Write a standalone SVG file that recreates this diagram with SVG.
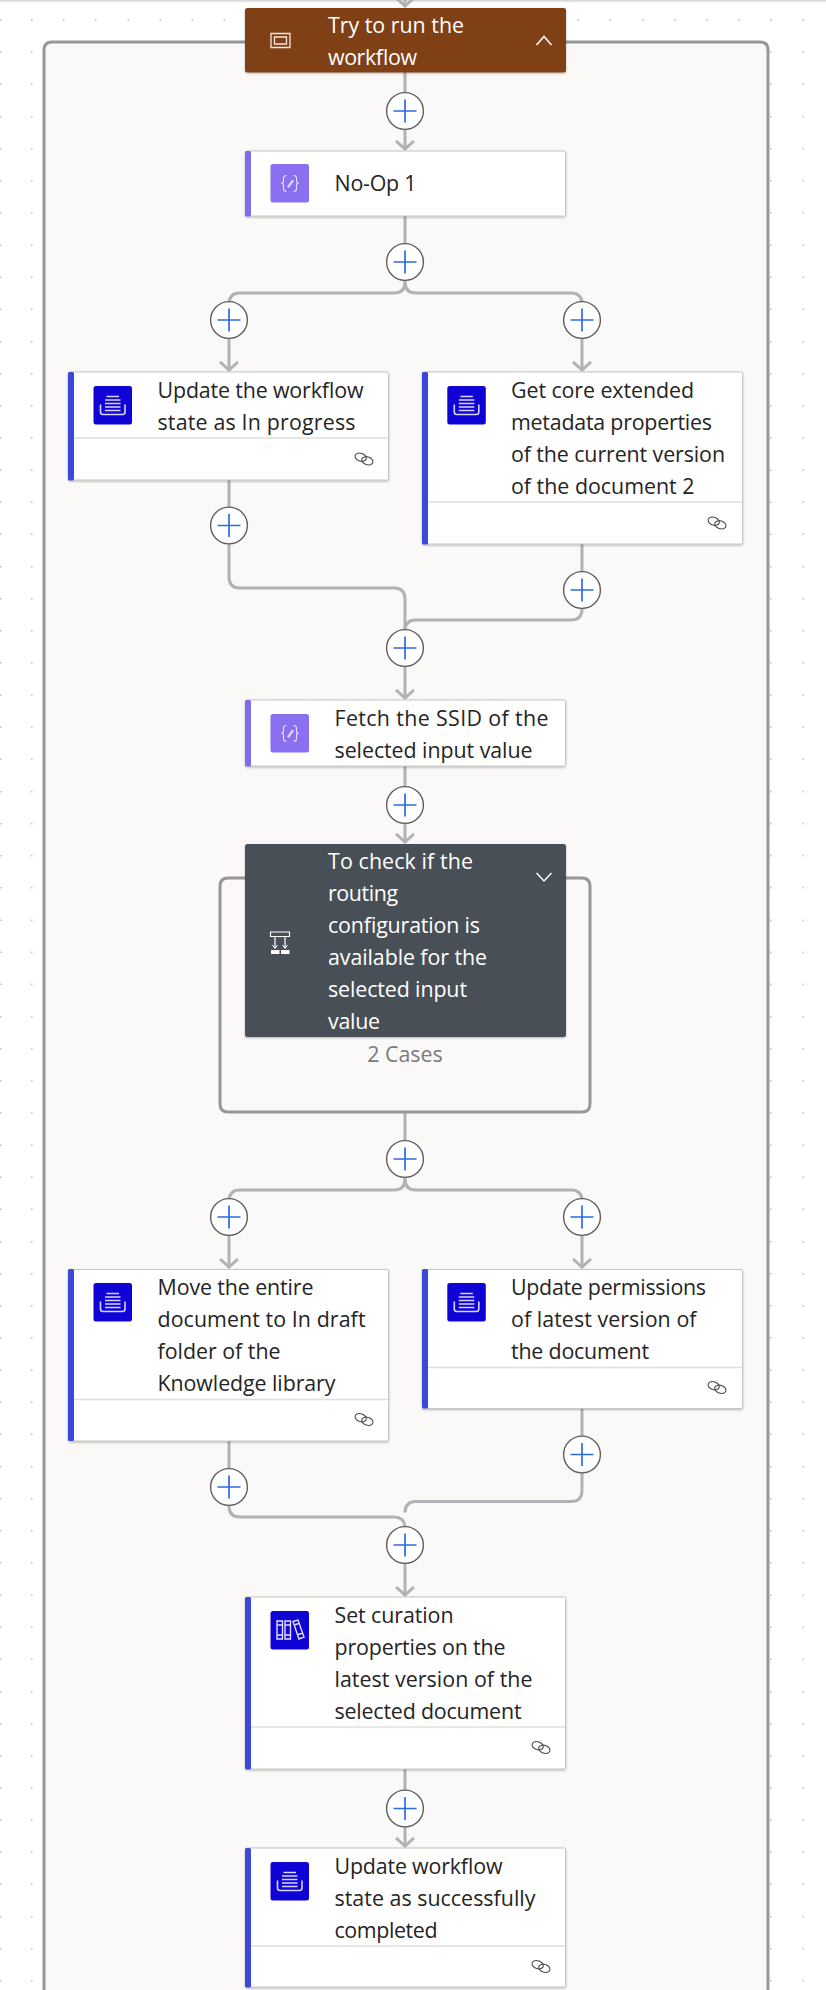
<svg xmlns="http://www.w3.org/2000/svg" width="826" height="1990" viewBox="0 0 826 1990">
<defs>
<style>
text{font-family:"Open Sans","Noto Sans","Liberation Sans",sans-serif;font-size:21.4px;fill:#242424;font-weight:400}
.lt{fill:#fff}
.card{fill:#fff;stroke:#c8c6c4;stroke-width:1}
.div{stroke:#e1dfdd;stroke-width:1.5;fill:none}
.conn{fill:none;stroke:#b1b1b6;stroke-width:3}
.scope{fill:#faf9f8;stroke:#979797;stroke-width:3}
.chain{fill:none;stroke:#4a4a4a;stroke-width:1.1}
.ico{fill:none;stroke:#d8d4ff;stroke-width:1.6}
.dot{fill:#c0c0c0}
</style>
<linearGradient id="topBand" x1="0" y1="0" x2="0" y2="1"><stop offset="0" stop-color="#d0d0d0"/><stop offset="1" stop-color="#fff"/></linearGradient>
<filter id="sh" x="-5%" y="-10%" width="110%" height="125%"><feDropShadow dx="0" dy="1" stdDeviation="1.2" flood-color="#000" flood-opacity="0.28"/></filter>
<marker id="arr" viewBox="0 0 20 12" refX="10" refY="10.500" markerWidth="20" markerHeight="12" markerUnits="userSpaceOnUse" orient="0"><path d="M1 1.500 10 9.500 19 1.500" fill="none" stroke="#b1b1b6" stroke-width="3"/></marker>
<g id="plus"><circle r="18.400" fill="#fff" stroke="#605e5c" stroke-width="1.400"/><path d="M-11.500 0H11.500M0-11.500V11.500" stroke="#2f6be4" stroke-width="1.700" fill="none"/></g>
<g id="chainI"><ellipse cx="-3.300" cy="-1.800" rx="5.800" ry="3.900" class="chain" transform="rotate(18 -3.300 -1.800)"/><ellipse cx="3.300" cy="1.800" rx="5.800" ry="3.900" class="chain" transform="rotate(18 3.300 1.800)"/></g>
<g id="icoData"><rect width="38.500" height="38.500" rx="2.500" fill="#0f03d6"/><path d="M13 10.500H25.500M11.500 14H27M11.500 17.500H27M11.500 21H27M11.500 24.500H27" stroke="#d8d4ff" stroke-width="1.500" fill="none"/><path d="M7 18.500V26Q7 28.500 9.500 28.500H29Q31.500 28.500 31.500 26V18.500" class="ico"/></g>
<g id="icoVar"><rect width="38.500" height="38.500" rx="2.500" fill="#8a6ff0"/><path d="M16 11.500Q13 11.500 13 14V17Q13 19.300 10.800 19.300Q13 19.300 13 21.600V25Q13 27.300 16 27.300M23 11.500Q26 11.500 26 14V17Q26 19.300 28.200 19.300Q26 19.300 26 21.600V25Q26 27.300 23 27.300" fill="none" stroke="#e6e0ff" stroke-width="1.100"/><path d="M16.500 22.500 21.500 15.500 23.500 17 18.500 24Z" fill="#d9d2ff"/></g>
</defs>
<rect width="826" height="1990" fill="#fff"/>
<rect width="826" height="3" fill="url(#topBand)"/>
<g id="grid" class="dot">
<path d="M31 19.500h1.500v1.500h-1.500zM63 19.500h1.500v1.500h-1.500zM95 19.500h1.500v1.500h-1.500zM127.500 19.500h1.500v1.500h-1.500zM159.500 19.500h1.500v1.500h-1.500zM191.500 19.500h1.500v1.500h-1.500zM223.500 19.500h1.500v1.500h-1.500zM577.500 19.500h1.500v1.500h-1.500zM609.500 19.500h1.500v1.500h-1.500zM642 19.500h1.500v1.500h-1.500zM674 19.500h1.500v1.500h-1.500zM706 19.500h1.500v1.500h-1.500zM738 19.500h1.500v1.500h-1.500zM770 19.500h1.500v1.500h-1.500zM802.500 19.500h1.500v1.500h-1.500z"/>
<path id="dc" d="M0 19.500h1.500v1.500h-1.500zM0 51.500h1.500v1.500h-1.500zM0 83.500h1.500v1.500h-1.500zM0 116h1.500v1.500h-1.500zM0 148h1.500v1.500h-1.500zM0 180h1.500v1.500h-1.500zM0 212h1.500v1.500h-1.500zM0 244.500h1.500v1.500h-1.500zM0 276.500h1.500v1.500h-1.500zM0 308.500h1.500v1.500h-1.500zM0 341h1.500v1.500h-1.500zM0 373h1.500v1.500h-1.500zM0 405h1.500v1.500h-1.500zM0 437h1.500v1.500h-1.500zM0 469.500h1.500v1.500h-1.500zM0 501.500h1.500v1.500h-1.500zM0 533.500h1.500v1.500h-1.500zM0 566h1.500v1.500h-1.500zM0 598h1.500v1.500h-1.500zM0 630h1.500v1.500h-1.500zM0 662h1.500v1.500h-1.500zM0 694.500h1.500v1.500h-1.500zM0 726.500h1.500v1.500h-1.500zM0 758.500h1.500v1.500h-1.500zM0 791h1.500v1.500h-1.500zM0 823h1.500v1.500h-1.500zM0 855h1.500v1.500h-1.500zM0 887h1.500v1.500h-1.500zM0 919.500h1.500v1.500h-1.500zM0 951.500h1.500v1.500h-1.500zM0 983.500h1.500v1.500h-1.500zM0 1016h1.500v1.500h-1.500zM0 1048h1.500v1.500h-1.500zM0 1080h1.500v1.500h-1.500zM0 1112h1.500v1.500h-1.500zM0 1144.500h1.500v1.500h-1.500zM0 1176.500h1.500v1.500h-1.500zM0 1208.500h1.500v1.500h-1.500zM0 1241h1.500v1.500h-1.500zM0 1273h1.500v1.500h-1.500zM0 1305h1.500v1.500h-1.500zM0 1337h1.500v1.500h-1.500zM0 1369.500h1.500v1.500h-1.500zM0 1401.500h1.500v1.500h-1.500zM0 1433.500h1.500v1.500h-1.500zM0 1466h1.500v1.500h-1.500zM0 1498h1.500v1.500h-1.500zM0 1530h1.500v1.500h-1.500zM0 1562h1.500v1.500h-1.500zM0 1594.500h1.500v1.500h-1.500zM0 1626.500h1.500v1.500h-1.500zM0 1658.500h1.500v1.500h-1.500zM0 1691h1.500v1.500h-1.500zM0 1723h1.500v1.500h-1.500zM0 1755h1.500v1.500h-1.500zM0 1787h1.500v1.500h-1.500zM0 1819.500h1.500v1.500h-1.500zM0 1851.500h1.500v1.500h-1.500zM0 1883.500h1.500v1.500h-1.500zM0 1916h1.500v1.500h-1.500zM0 1948h1.500v1.500h-1.500zM0 1980h1.500v1.500h-1.500z"/>
<use href="#dc" x="31"/><use href="#dc" x="770"/><use href="#dc" x="802.500"/>
</g>
<path class="scope" d="M44 1992V50Q44 42 52 42H760Q768 42 768 50V1992"/>
<g id="connectors">
<path class="conn" d="M405 0V7" marker-end="url(#arr)"/>
<path class="conn" d="M405 72V150" marker-end="url(#arr)"/>
<path class="conn" d="M405 216V282Q405 293 394 293H240Q229 293 229 304V371" marker-end="url(#arr)"/>
<path class="conn" d="M405 282Q405 293 416 293H571Q582 293 582 304V371" marker-end="url(#arr)"/>
<path class="conn" d="M229 480V577Q229 588 240 588H394Q405 588 405 599V699" marker-end="url(#arr)"/>
<path class="conn" d="M582 544V609Q582 620 571 620H416Q405 620 405 631"/>
<path class="conn" d="M405 766V843" marker-end="url(#arr)"/>
<path class="conn" d="M405 1112V1179Q405 1190 394 1190H240Q229 1190 229 1201V1268" marker-end="url(#arr)"/>
<path class="conn" d="M405 1179Q405 1190 416 1190H571Q582 1190 582 1201V1268" marker-end="url(#arr)"/>
<path class="conn" d="M229 1441V1506Q229 1517 240 1517H394Q405 1517 405 1528V1596" marker-end="url(#arr)"/>
<path class="conn" d="M582 1408.500V1490.500Q582 1501.500 571 1501.500H416Q405 1501.500 405 1512.500"/>
<path class="conn" d="M405 1769V1847" marker-end="url(#arr)"/>
</g>
<g id="plusButtons">
<use href="#plus" x="405" y="111"/><use href="#plus" x="405" y="262"/><use href="#plus" x="229" y="320"/><use href="#plus" x="582" y="320"/><use href="#plus" x="229" y="525.500"/><use href="#plus" x="582" y="590"/><use href="#plus" x="405" y="648"/><use href="#plus" x="405" y="805"/><use href="#plus" x="405" y="1159"/><use href="#plus" x="229" y="1217"/><use href="#plus" x="582" y="1217"/><use href="#plus" x="229" y="1487"/><use href="#plus" x="582" y="1454.500"/><use href="#plus" x="405" y="1545"/><use href="#plus" x="405" y="1808.500"/>
</g>
<g id="node-try">
<rect x="245" y="8" width="321" height="64.500" rx="2.500" fill="#803f13" filter="url(#sh)"/>
<path d="M271 33.500h19v14h-19zM274.500 37h12v7h-12z" fill="none" stroke="#f3e6dc" stroke-width="1.300"/>
<path d="M536.500 45 544 36.500 551.500 45" fill="none" stroke="#fff" stroke-width="1.500"/>
<text class="lt" x="328" y="33" textLength="136">Try to run the</text><text class="lt" x="328" y="65" textLength="89">workflow</text>
</g>
<g id="node-noop">
<rect class="card" x="245.500" y="151" width="320" height="65" rx="1.500" filter="url(#sh)"/><rect x="245" y="151" width="6" height="65.500" rx="1.500" fill="#7f6bee"/>
<use href="#icoVar" x="270.500" y="164"/>
<text x="334.500" y="191" textLength="82">No-Op 1</text>
</g>
<g id="node-update-state">
<rect class="card" x="68.500" y="372" width="320" height="108" rx="1.500" filter="url(#sh)"/><rect x="68" y="372" width="6" height="108.500" rx="1.500" fill="#3b48d8"/>
<path class="div" d="M74 438H388"/><use href="#icoData" x="93.500" y="386"/><use href="#chainI" x="364" y="459"/>
<text x="157.500" y="397.500" textLength="206">Update the workflow</text><text x="157.500" y="429.500" textLength="198">state as In progress</text>
</g>
<g id="node-get-core">
<rect class="card" x="422.500" y="372" width="320" height="172" rx="1.500" filter="url(#sh)"/><rect x="422" y="372" width="6" height="172.500" rx="1.500" fill="#3b48d8"/>
<path class="div" d="M428 502H742"/><use href="#icoData" x="447.300" y="386"/><use href="#chainI" x="717" y="523"/>
<text x="511" y="397.500" textLength="183">Get core extended</text><text x="511" y="429.500" textLength="201">metadata properties</text><text x="511" y="461.500" textLength="214">of the current version</text><text x="511" y="494" textLength="183.500">of the document 2</text>
</g>
<g id="node-fetch">
<rect class="card" x="245.500" y="700" width="320" height="66" rx="1.500" filter="url(#sh)"/><rect x="245" y="700" width="6" height="66.500" rx="1.500" fill="#7f6bee"/>
<use href="#icoVar" x="270.500" y="714"/>
<text x="334.500" y="726" textLength="214">Fetch the SSID of the</text><text x="334.500" y="758" textLength="198">selected input value</text>
</g>
<g id="node-switch">
<path d="M220 1104V886Q220 878 228 878H582Q590 878 590 886V1104Q590 1112 582 1112H228Q220 1112 220 1104Z" class="scope"/>
<rect x="245" y="844" width="321" height="193" rx="2.500" fill="#4a4f57" filter="url(#sh)"/>
<path d="M270.500 932h19v4.500h-19zM275 936.500V948M285 936.500V948" fill="none" stroke="#fff" stroke-width="1.200"/><path d="M271 950h8.500v4h-8.500zM281 950h8.500v4h-8.500z" fill="#fff"/><path d="M272.500 945 275 948.500 277.500 945M282.500 945 285 948.500 287.500 945" fill="none" stroke="#fff" stroke-width="1"/>
<path d="M536.500 873 544 881 551.500 873" fill="none" stroke="#fff" stroke-width="1.500"/>
<text class="lt" x="328" y="868.500" textLength="145">To check if the</text><text class="lt" x="328" y="900.500" textLength="70">routing</text><text class="lt" x="328" y="932.500" textLength="152">configuration is</text><text class="lt" x="328" y="965" textLength="159">available for the</text><text class="lt" x="328" y="997" textLength="139">selected input</text><text class="lt" x="328" y="1029" textLength="52">value</text>
<text x="405" y="1061.500" text-anchor="middle" style="fill:#7a7a7a">2 Cases</text>
</g>
<g id="node-move">
<rect class="card" x="68.500" y="1269.500" width="320" height="171.500" rx="1.500" filter="url(#sh)"/><rect x="68" y="1269" width="6" height="172" rx="1.500" fill="#3b48d8"/>
<path class="div" d="M74 1399.500H388"/><use href="#icoData" x="93.500" y="1283"/><use href="#chainI" x="364" y="1419.500"/>
<text x="157.500" y="1294.500" textLength="156">Move the entire</text><text x="157.500" y="1326.500" textLength="208">document to In draft</text><text x="157.500" y="1358.500" textLength="123">folder of the</text><text x="157.500" y="1390.500" textLength="178">Knowledge library</text>
</g>
<g id="node-perm">
<rect class="card" x="422.500" y="1269.500" width="320" height="139" rx="1.500" filter="url(#sh)"/><rect x="422" y="1269" width="6" height="139.500" rx="1.500" fill="#3b48d8"/>
<path class="div" d="M428 1367.500H742"/><use href="#icoData" x="447.300" y="1283"/><use href="#chainI" x="717" y="1387.500"/>
<text x="511" y="1294.500" textLength="195">Update permissions</text><text x="511" y="1326.500" textLength="185.500">of latest version of</text><text x="511" y="1358.500" textLength="138">the document</text>
</g>
<g id="node-curation">
<rect class="card" x="245.500" y="1597" width="320" height="172" rx="1.500" filter="url(#sh)"/><rect x="245" y="1597" width="6" height="172.500" rx="1.500" fill="#3b48d8"/>
<path class="div" d="M251 1727H565"/>
<rect x="270.500" y="1611" width="38.500" height="38.500" rx="2.500" fill="#0f03d6"/>
<path d="M277 1621h5.500v18h-5.500zM277 1625h5.500M277 1635h5.500M285 1621h5.500v18h-5.500zM285 1625h5.500M285 1635h5.500M293 1621.500l5-1.500 6 17-5 2zM294 1625l5-1.500M298 1634.500l5-1.500" fill="none" stroke="#e4e0ff" stroke-width="1.400"/>
<use href="#chainI" x="541" y="1747.500"/>
<text x="334.500" y="1622.500" textLength="119">Set curation</text><text x="334.500" y="1654.500" textLength="171">properties on the</text><text x="334.500" y="1686.500" textLength="198">latest version of the</text><text x="334.500" y="1718.500" textLength="187">selected document</text>
</g>
<g id="node-final">
<rect class="card" x="245.500" y="1848" width="320" height="139" rx="1.500" filter="url(#sh)"/><rect x="245" y="1848" width="6" height="139.500" rx="1.500" fill="#3b48d8"/>
<path class="div" d="M251 1946H565"/><use href="#icoData" x="270.500" y="1862"/><use href="#chainI" x="541" y="1966.500"/>
<text x="334.500" y="1873.500" textLength="168">Update workflow</text><text x="334.500" y="1905.500" textLength="201">state as successfully</text><text x="334.500" y="1937.500" textLength="103">completed</text>
</g>
</svg>
